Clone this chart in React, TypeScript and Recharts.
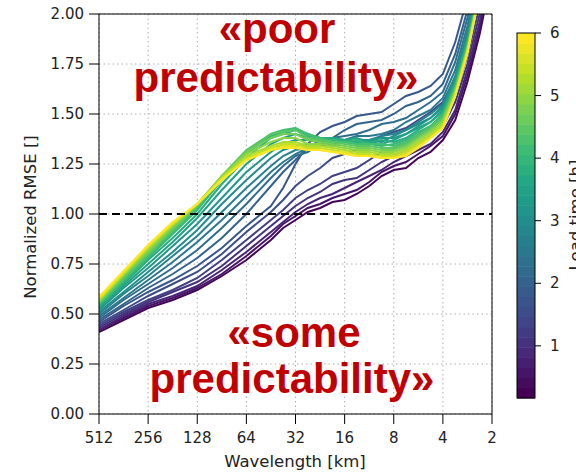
import React from 'react';
import { LineChart, Line, XAxis, YAxis, CartesianGrid, ReferenceLine } from 'recharts';

// wavelength in km (x axis, log scale, reversed)
const WAVELENGTHS = [512, 362, 256, 181, 128, 90.5, 64, 45.3, 38.1, 32, 26.9, 22.6, 19, 16, 13.5, 11.3, 9.5, 8, 6.73, 5.66, 4.76, 4, 3.36, 2.83, 2.38, 2];

// lead time of each curve, hours
const LEAD_TIMES = [0.25, 0.5, 0.75, 1, 1.25, 1.5, 1.75, 2, 2.25, 2.5, 2.75, 3, 3.25, 3.5, 3.75, 4, 4.25, 4.5, 4.75, 5, 5.25, 5.5, 5.75, 6];

// normalized RMSE per lead time, one value per wavelength
const L0_25 = [0.41, 0.47, 0.53, 0.57, 0.62, 0.69, 0.77, 0.87, 0.93, 0.97, 1.01, 1.03, 1.06, 1.07, 1.1, 1.14, 1.19, 1.22, 1.23, 1.28, 1.31, 1.37, 1.47, 1.66, 1.9, 2.2];
const L0_50 = [0.42, 0.48, 0.54, 0.58, 0.63, 0.7, 0.79, 0.89, 0.95, 0.99, 1.03, 1.05, 1.08, 1.1, 1.12, 1.16, 1.21, 1.24, 1.26, 1.3, 1.34, 1.39, 1.5, 1.69, 1.93, 2.22];
const L0_75 = [0.42, 0.49, 0.55, 0.59, 0.64, 0.72, 0.81, 0.91, 0.96, 1.01, 1.05, 1.08, 1.1, 1.13, 1.16, 1.19, 1.22, 1.26, 1.29, 1.32, 1.35, 1.41, 1.52, 1.72, 1.96, 2.25];
const L1_00 = [0.43, 0.5, 0.56, 0.61, 0.66, 0.74, 0.84, 0.94, 0.99, 1.04, 1.08, 1.11, 1.15, 1.17, 1.18, 1.22, 1.26, 1.29, 1.31, 1.35, 1.39, 1.44, 1.56, 1.75, 2.0, 2.28];
const L1_25 = [0.44, 0.51, 0.57, 0.62, 0.68, 0.77, 0.87, 0.97, 1.02, 1.08, 1.12, 1.15, 1.19, 1.21, 1.23, 1.27, 1.31, 1.33, 1.35, 1.39, 1.43, 1.48, 1.6, 1.79, 2.04, 2.32];
const L1_50 = [0.45, 0.52, 0.59, 0.65, 0.71, 0.8, 0.91, 1.01, 1.07, 1.14, 1.19, 1.23, 1.28, 1.3, 1.32, 1.35, 1.39, 1.41, 1.43, 1.47, 1.51, 1.56, 1.68, 1.88, 2.12, 2.4];
const L1_75 = [0.46, 0.54, 0.61, 0.67, 0.74, 0.83, 0.94, 1.04, 1.13, 1.25, 1.35, 1.41, 1.44, 1.46, 1.49, 1.5, 1.51, 1.55, 1.59, 1.61, 1.64, 1.7, 1.86, 2.08, 2.35, 2.6];
const L2_00 = [0.47, 0.55, 0.63, 0.7, 0.78, 0.88, 1.0, 1.14, 1.21, 1.27, 1.33, 1.37, 1.38, 1.42, 1.45, 1.46, 1.47, 1.5, 1.54, 1.56, 1.59, 1.65, 1.8, 2.02, 2.3, 2.55];
const L2_25 = [0.48, 0.57, 0.65, 0.73, 0.82, 0.93, 1.05, 1.18, 1.24, 1.29, 1.31, 1.35, 1.38, 1.39, 1.4, 1.42, 1.45, 1.46, 1.48, 1.52, 1.56, 1.61, 1.76, 1.98, 2.25, 2.52];
const L2_50 = [0.49, 0.58, 0.67, 0.76, 0.86, 0.97, 1.09, 1.21, 1.26, 1.3, 1.33, 1.34, 1.35, 1.37, 1.39, 1.39, 1.4, 1.42, 1.46, 1.49, 1.52, 1.58, 1.72, 1.94, 2.22, 2.5];
const L2_75 = [0.5, 0.6, 0.69, 0.79, 0.89, 1.01, 1.13, 1.24, 1.29, 1.32, 1.33, 1.34, 1.36, 1.36, 1.35, 1.37, 1.39, 1.4, 1.42, 1.46, 1.5, 1.55, 1.69, 1.91, 2.2, 2.48];
const L3_00 = [0.51, 0.61, 0.71, 0.81, 0.92, 1.05, 1.17, 1.28, 1.32, 1.34, 1.35, 1.35, 1.34, 1.36, 1.37, 1.37, 1.36, 1.39, 1.42, 1.45, 1.48, 1.54, 1.68, 1.89, 2.18, 2.46];
const L3_25 = [0.52, 0.63, 0.73, 0.84, 0.95, 1.08, 1.21, 1.31, 1.35, 1.37, 1.37, 1.36, 1.38, 1.37, 1.36, 1.37, 1.38, 1.38, 1.4, 1.44, 1.48, 1.53, 1.67, 1.88, 2.17, 2.45];
const L3_50 = [0.53, 0.64, 0.75, 0.86, 0.98, 1.12, 1.25, 1.35, 1.38, 1.4, 1.38, 1.37, 1.36, 1.37, 1.38, 1.36, 1.35, 1.37, 1.4, 1.43, 1.46, 1.52, 1.66, 1.87, 2.16, 2.45];
const L3_75 = [0.54, 0.65, 0.77, 0.88, 1.0, 1.15, 1.28, 1.38, 1.4, 1.42, 1.4, 1.38, 1.38, 1.37, 1.36, 1.36, 1.37, 1.36, 1.38, 1.42, 1.46, 1.51, 1.65, 1.86, 2.15, 2.44];
const L4_00 = [0.545, 0.66, 0.78, 0.9, 1.02, 1.17, 1.3, 1.39, 1.41, 1.43, 1.39, 1.38, 1.37, 1.36, 1.37, 1.35, 1.34, 1.35, 1.37, 1.41, 1.44, 1.5, 1.64, 1.85, 2.14, 2.44];
const L4_25 = [0.55, 0.67, 0.79, 0.91, 1.03, 1.18, 1.31, 1.4, 1.42, 1.43, 1.4, 1.38, 1.36, 1.36, 1.35, 1.35, 1.35, 1.34, 1.36, 1.4, 1.44, 1.49, 1.63, 1.84, 2.13, 2.43];
const L4_50 = [0.555, 0.68, 0.8, 0.92, 1.04, 1.19, 1.32, 1.4, 1.41, 1.42, 1.38, 1.37, 1.36, 1.35, 1.34, 1.34, 1.33, 1.33, 1.35, 1.39, 1.43, 1.48, 1.62, 1.83, 2.12, 2.43];
const L4_75 = [0.56, 0.69, 0.81, 0.93, 1.045, 1.19, 1.31, 1.38, 1.4, 1.4, 1.37, 1.36, 1.35, 1.34, 1.33, 1.33, 1.32, 1.32, 1.34, 1.38, 1.42, 1.47, 1.62, 1.83, 2.12, 2.42];
const L5_00 = [0.565, 0.695, 0.82, 0.94, 1.05, 1.19, 1.3, 1.36, 1.38, 1.38, 1.35, 1.35, 1.34, 1.33, 1.32, 1.32, 1.31, 1.31, 1.33, 1.37, 1.41, 1.46, 1.61, 1.82, 2.11, 2.42];
const L5_25 = [0.57, 0.7, 0.83, 0.945, 1.05, 1.18, 1.29, 1.34, 1.36, 1.36, 1.34, 1.34, 1.33, 1.32, 1.31, 1.31, 1.3, 1.3, 1.32, 1.36, 1.4, 1.45, 1.6, 1.82, 2.11, 2.41];
const L5_50 = [0.575, 0.705, 0.835, 0.95, 1.05, 1.18, 1.28, 1.33, 1.35, 1.35, 1.33, 1.33, 1.32, 1.31, 1.3, 1.3, 1.29, 1.29, 1.31, 1.35, 1.39, 1.44, 1.6, 1.81, 2.1, 2.41];
const L5_75 = [0.58, 0.71, 0.84, 0.955, 1.05, 1.17, 1.27, 1.32, 1.34, 1.34, 1.32, 1.32, 1.31, 1.31, 1.29, 1.29, 1.28, 1.28, 1.3, 1.34, 1.38, 1.43, 1.59, 1.81, 2.1, 2.4];
const L6_00 = [0.585, 0.715, 0.845, 0.96, 1.05, 1.17, 1.27, 1.32, 1.33, 1.33, 1.32, 1.32, 1.31, 1.3, 1.29, 1.29, 1.28, 1.28, 1.29, 1.33, 1.38, 1.43, 1.59, 1.8, 2.1, 2.4];

const SERIES = [
  L0_25, L0_50, L0_75, L1_00, L1_25, L1_50, L1_75, L2_00, L2_25, L2_50, L2_75, L3_00,
  L3_25, L3_50, L3_75, L4_00, L4_25, L4_50, L4_75, L5_00, L5_25, L5_50, L5_75, L6_00,
];

const X_TICKS = [512, 256, 128, 64, 32, 16, 8, 4, 2];
const Y_TICKS = [0, 0.25, 0.5, 0.75, 1, 1.25, 1.5, 1.75, 2];
const CBAR_TICKS = [1, 2, 3, 4, 5, 6];

const LEAD_MIN = 1 / 6;
const LEAD_MAX = 6;
const CBAR_BANDS = 36;

const VIRIDIS = ['#440154', '#482475', '#414487', '#355f8d', '#2a788e', '#21918c', '#22a884', '#44bf70', '#7ad151', '#bddf26', '#fde725'];

function viridis(t: number) {
  const c = Math.max(0, Math.min(1, t)) * (VIRIDIS.length - 1);
  const i = Math.min(Math.floor(c), VIRIDIS.length - 2);
  const f = c - i;
  const a = VIRIDIS[i], b = VIRIDIS[i + 1];
  const ch = (s: string, k: number) => parseInt(s.slice(1 + 2 * k, 3 + 2 * k), 16);
  const mix = [0, 1, 2].map((k) => Math.round(ch(a, k) + (ch(b, k) - ch(a, k)) * f));
  return `rgb(${mix[0]},${mix[1]},${mix[2]})`;
}

const leadColor = (h: number) => viridis((h - LEAD_MIN) / (LEAD_MAX - LEAD_MIN));

const data = WAVELENGTHS.map((wl, i) => {
  const row: Record<string, number> = { wl };
  SERIES.forEach((s, k) => {
    row[`s${k}`] = s[i];
  });
  return row;
});

// whole page is used, coordinates below are page pixels
const W = 576;
const H = 472;
const FONT = '"DejaVu Sans", sans-serif';
const RED = '#c00000';

// colorbar geometry
const CB_X = 517;
const CB_W = 18;
const CB_TOP = 33;
const CB_BOT = 398;
const cbY = (v: number) => CB_BOT - ((v - LEAD_MIN) / (LEAD_MAX - LEAD_MIN)) * (CB_BOT - CB_TOP);

const tickStyle = { fontSize: 15, fill: '#222', fontFamily: FONT };

const App: React.FC = () => {
  const bandH = (CB_BOT - CB_TOP) / CBAR_BANDS;
  return (
    <div style={{ position: 'absolute', left: 0, top: 0, width: W, height: H, overflow: 'hidden', fontFamily: FONT, background: '#fff' }}>
      <LineChart width={W} height={H} data={data} margin={{ top: 14, right: 84, bottom: 0, left: 0 }}>
        <CartesianGrid stroke="#b0b0b0" strokeDasharray="1.5 3" />
        <XAxis
          dataKey="wl"
          type="number"
          scale="log"
          domain={[2, 512]}
          reversed
          ticks={X_TICKS}
          interval={0}
          allowDataOverflow
          height={58}
          tickSize={10}
          tickMargin={8}
          tick={tickStyle}
          stroke="#000"
          tickLine={{ stroke: '#000' }}
        />
        <YAxis
          type="number"
          domain={[0, 2]}
          ticks={Y_TICKS}
          interval={0}
          allowDataOverflow
          width={99}
          tickSize={10}
          tickMargin={5}
          tick={tickStyle}
          tickFormatter={(v: number) => v.toFixed(2)}
          stroke="#000"
          tickLine={{ stroke: '#000' }}
        />
        {SERIES.map((_, k) => (
          <Line
            key={k}
            dataKey={`s${k}`}
            type="linear"
            stroke={leadColor(LEAD_TIMES[k])}
            strokeWidth={2}
            dot={false}
            isAnimationActive={false}
          />
        ))}
        <ReferenceLine y={1} stroke="#000" strokeWidth={2} strokeDasharray="8 5" />
        <ReferenceLine y={2} stroke="#000" strokeWidth={1} />
        <ReferenceLine x={2} stroke="#000" strokeWidth={1} />
      </LineChart>

      <svg width={W} height={H} style={{ position: 'absolute', left: 0, top: 0, pointerEvents: 'none' }}>
        <text x={30} y={217} transform="rotate(-90 30 217)" textAnchor="middle" dominantBaseline="central" fontSize={16.5} fill="#222">
          Normalized RMSE []
        </text>
        <text x={295} y={461} textAnchor="middle" dominantBaseline="central" fontSize={16.5} fill="#222">
          Wavelength [km]
        </text>

        <g fontFamily='"Liberation Sans", Arial, sans-serif' fontWeight="bold" fontSize={42} fill={RED} textAnchor="middle">
          <text x={277} y={43}>«poor</text>
          <text x={276} y={92}>predictability»</text>
          <text x={294} y={347}>«some</text>
          <text x={292} y={393}>predictability»</text>
        </g>

        {Array.from({ length: CBAR_BANDS }, (_, i) => (
          <rect
            key={i}
            x={CB_X}
            y={CB_BOT - (i + 1) * bandH}
            width={CB_W}
            height={bandH + 0.5}
            fill={viridis(i / (CBAR_BANDS - 1))}
          />
        ))}
        <rect x={CB_X} y={CB_TOP} width={CB_W} height={CB_BOT - CB_TOP} fill="none" stroke="#000" strokeWidth={1} />
        {CBAR_TICKS.map((v) => (
          <g key={v}>
            <line x1={CB_X + CB_W} x2={CB_X + CB_W + 6} y1={cbY(v)} y2={cbY(v)} stroke="#000" />
            <text x={CB_X + CB_W + 15} y={cbY(v)} dominantBaseline="central" fontSize={15} fill="#222">
              {v}
            </text>
          </g>
        ))}
        {/* label sits half outside the frame, as in the original */}
        <text x={575} y={215} transform="rotate(-90 575 215)" textAnchor="middle" dominantBaseline="central" fontSize={16.5} fill="#222">
          Lead time [h]
        </text>
      </svg>
    </div>
  );
};

export default App;
